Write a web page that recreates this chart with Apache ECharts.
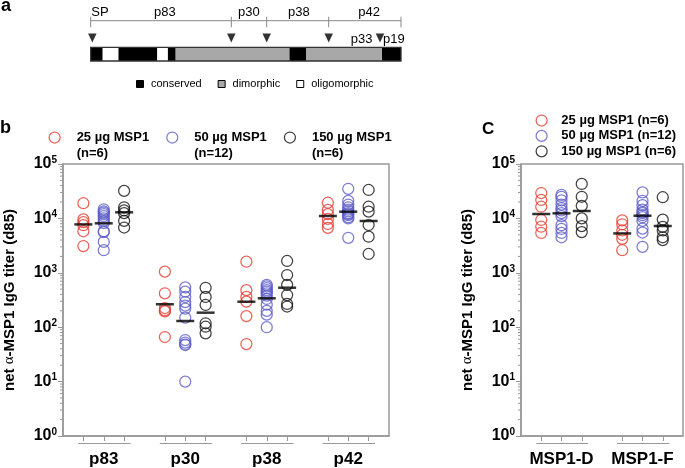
<!DOCTYPE html>
<html><head><meta charset="utf-8">
<script src="https://cdn.jsdelivr.net/npm/echarts@6/dist/echarts.min.js"></script>
<style>html,body{margin:0;padding:0;background:#fff}#c{width:685px;height:468px}</style>
</head><body><div id="c"></div>
<script>
// ---------- Panel a : MSP1 schematic (positions along the protein, 0..1000) ----------
const domainBounds = [0, 38.7, 88.9, 214.6, 248.1, 273.9, 640.0, 693.8, 937.8, 1000];
const domainTypes = ['conserved','oligomorphic','conserved','oligomorphic','conserved','dimorphic','conserved','dimorphic','conserved'];
const domainNames = ['conserved','dimorphic','oligomorphic'];
const processingSites = [0, 453.1, 567.2, 767.0, 1000];
const cleavageSites = [5.2, 453.1, 567.2, 767.0, 932.3];
const fragmentNames = ['SP','p83','p30','p38','p42'];
const fragmentLabelPos = [30, 239, 510, 671, 897];
const subFragmentNames = ['p33','p19'];
const subFragmentLabelPos = [873, 977];

// ---------- Panel b ----------
const fragments = ['p83','p30','p38','p42'];
const doses = ['25 µg MSP1 (n=6)','50 µg MSP1 (n=12)','150 µg MSP1 (n=6)'];
const b_25 = [
  [19000, 9600, 8500, 7500, 5800, 3100],
  [1050, 420, 225, 205, 195, 66],
  [1600, 480, 360, 295, 160, 49],
  [19400, 14300, 12000, 9800, 7900, 6700]
];
const b_50 = [
  [14700, 13500, 12800, 12000, 11000, 10000, 9000, 8200, 5800, 5600, 3700, 2600],
  [540, 450, 360, 290, 250, 220, 150, 58, 52, 48, 47, 10],
  [600, 560, 520, 480, 450, 420, 380, 330, 260, 200, 170, 100],
  [35000, 21000, 18000, 16000, 14500, 13500, 12500, 12000, 11500, 10500, 10000, 4400]
];
const b_150 = [
  [32000, 16000, 14000, 12500, 9000, 6800],
  [530, 360, 256, 118, 102, 77],
  [1650, 910, 600, 390, 267, 240],
  [33300, 16400, 13300, 7560, 4610, 2220]
];
const b_gm25 = [7760, 264, 294, 11070];
const b_gm50 = [8120, 130, 340, 13290];
const b_gm150 = [12940, 185, 532, 8960];

// ---------- Panel c ----------
const variants = ['MSP1-D','MSP1-F'];
const c_25 = [
  [29300, 21800, 16400, 9350, 7030, 5400],
  [9200, 7800, 6000, 5000, 4200, 2600]
];
const c_50 = [
  [27000, 25000, 21500, 18000, 15500, 14000, 12500, 11000, 7500, 6400, 5400, 4500],
  [30000, 21000, 17500, 14500, 13000, 12500, 11500, 10500, 9000, 6500, 5500, 3000]
];
const c_150 = [
  [43000, 25000, 17000, 10000, 7200, 5600],
  [24500, 9500, 7000, 6000, 4500, 4000]
];
const c_gm25 = [12050, 5300];
const c_gm50 = [12400, 11200];
const c_gm150 = [13680, 7250];

// ---------- styling ----------
const FONT = 'Liberation Sans, Arial, sans-serif';
const doseColors = ['#e63a2e', '#5b5bc9', '#111111'];
const domainColors = {conserved:'#000000', dimorphic:'#a8a8a8', oligomorphic:'#ffffff'};
const AX = '#999999';

const chart = echarts.init(document.getElementById('c'), null, {renderer:'canvas'});

function groupX(gi, di){ return 4*gi + 1 + di; }

function doseSeries(di, groups, axisIdx){
  const data = [];
  groups.forEach((vals, gi) => vals.forEach(v => data.push([groupX(gi, di), v])));
  return {
    type:'scatter', name:doses[di], xAxisIndex:axisIdx, yAxisIndex:axisIdx,
    symbol:'circle', symbolSize:11, data, z:3,
    itemStyle:{color:'rgba(0,0,0,0)', borderColor:doseColors[di], borderWidth:1.25},
    emphasis:{disabled:true}
  };
}
function meanSeries(gms, axisIdx){
  const data = [];
  gms.forEach((arr, di) => arr.forEach((v, gi) => data.push([groupX(gi, di), v])));
  return {
    type:'scatter', name:'geometric mean', xAxisIndex:axisIdx, yAxisIndex:axisIdx,
    symbol:'rect', symbolSize:[18, 2.5], data, z:4,
    itemStyle:{color:'#000'}, emphasis:{disabled:true}
  };
}
function minorTickSeries(axisIdx){
  const data = [];
  for (let e = 0; e < 5; e++) for (let k = 2; k <= 9; k++) data.push([0, k*Math.pow(10, e)]);
  return {
    type:'custom', xAxisIndex:axisIdx, yAxisIndex:axisIdx, clip:false, silent:true,
    data, encode:{x:0, y:1},
    renderItem:(p, api) => {
      const c = api.coord([api.value(0), api.value(1)]);
      return {type:'line', shape:{x1:c[0]-3, y1:c[1], x2:c[0], y2:c[1]}, style:{stroke:AX, lineWidth:1}};
    }
  };
}
function bracketSeries(n, axisIdx){
  const data = [];
  for (let gi = 0; gi < n; gi++) data.push([groupX(gi,0)-0.25, groupX(gi,2)+0.32]);
  return {
    type:'custom', xAxisIndex:axisIdx, yAxisIndex:axisIdx, clip:false, silent:true,
    data, encode:{x:[0,1]},
    renderItem:(p, api) => {
      const a = api.coord([api.value(0), 1]);
      const b = api.coord([api.value(1), 1]);
      return {type:'line', shape:{x1:a[0], y1:a[1]+7.5, x2:b[0], y2:b[1]+7.5}, style:{stroke:AX, lineWidth:1}};
    }
  };
}
function xAxisFor(names, gridIndex){
  const ticks = [];
  names.forEach((n, gi) => { for (let d = 0; d < 3; d++) ticks.push(groupX(gi, d)); });
  const labels = names.map((n, gi) => groupX(gi, 1));
  return {
    type:'value', gridIndex, min:0, max:4*names.length,
    axisLine:{show:true, lineStyle:{color:AX, width:1.5}},
    axisTick:{show:true, customValues:ticks, length:5, lineStyle:{color:AX, width:1}},
    axisLabel:{show:true, customValues:labels, margin:14.5, fontSize:17, fontWeight:'bold', color:'#000', fontFamily:FONT,
      formatter:(v) => names[Math.round((v-2)/4)]},
    splitLine:{show:false}
  };
}
function yAxisFor(gridIndex){
  return {
    type:'log', logBase:10, gridIndex, min:1, max:100000,
    name:'net {a|α}-MSP1 IgG titer (d85)', nameLocation:'middle', nameGap:46,
    nameTextStyle:{fontSize:15, fontWeight:'bold', color:'#000', fontFamily:FONT,
      rich:{a:{fontSize:15, fontFamily:'Liberation Serif, serif', fontWeight:'normal', color:'#000'}}},
    axisLine:{show:true, lineStyle:{color:AX, width:1.5}},
    axisTick:{show:true, length:5, lineStyle:{color:AX, width:1}},
    minorTick:{show:false},
    splitLine:{show:false},
    axisLabel:{margin:6, color:'#000', fontFamily:FONT,
      formatter:(v) => '{b|10}{s|' + Math.round(Math.log10(v)) + '}',
      rich:{b:{fontSize:16, fontWeight:'bold', fontFamily:FONT, color:'#000', lineHeight:18},
            s:{fontSize:10, fontWeight:'bold', fontFamily:FONT, color:'#000', verticalAlign:'top', lineHeight:18, padding:[0,0,6,0]}}}
  };
}

// panel a series
function domainSeries(type){
  const data = [];
  domainTypes.forEach((t, i) => { if (t === type) data.push([domainBounds[i], domainBounds[i+1]]); });
  return {
    type:'custom', name:type, xAxisIndex:2, yAxisIndex:2, clip:false, silent:true,
    itemStyle:{color:domainColors[type]}, data, encode:{x:[0,1]},
    renderItem:(p, api) => {
      const a = api.coord([api.value(0), 47.3]);
      const b = api.coord([api.value(1), 61]);
      return {type:'rect', shape:{x:a[0], y:a[1], width:b[0]-a[0], height:b[1]-a[1]}, style:{fill:domainColors[type]}};
    }
  };
}
const outlineSeries = {
  type:'custom', xAxisIndex:2, yAxisIndex:2, clip:false, silent:true, z:3,
  data:[[domainBounds[0], domainBounds[domainBounds.length-1]]], encode:{x:[0,1]},
  renderItem:(p, api) => {
    const a = api.coord([api.value(0), 47.3]);
    const b = api.coord([api.value(1), 61]);
    return {type:'rect', shape:{x:a[0], y:a[1], width:b[0]-a[0], height:b[1]-a[1]}, style:{fill:'none', stroke:'#333', lineWidth:1.3}};
  }
};
const sitesSeries = {
  type:'custom', xAxisIndex:2, yAxisIndex:2, clip:false, silent:true,
  data:processingSites.map(v => [v]), encode:{x:0},
  renderItem:(p, api) => {
    const t = api.coord([api.value(0), 16.7]);
    const b = api.coord([api.value(0), 27.3]);
    const children = [{type:'line', shape:{x1:t[0], y1:t[1], x2:b[0], y2:b[1]}, style:{stroke:'#888', lineWidth:1}}];
    if (p.dataIndex === 0) {
      const l = api.coord([processingSites[0], 20.7]);
      const r = api.coord([processingSites[processingSites.length-1], 20.7]);
      children.push({type:'line', shape:{x1:l[0], y1:l[1], x2:r[0], y2:r[1]}, style:{stroke:'#888', lineWidth:1}});
    }
    return {type:'group', children};
  }
};
function textSeries(names, pos, y){
  return {
    type:'custom', xAxisIndex:2, yAxisIndex:2, clip:false, silent:true,
    data:pos.map((v, i) => [v, i]), encode:{x:0},
    renderItem:(p, api) => {
      const c = api.coord([api.value(0), y]);
      return {type:'text', x:c[0], y:c[1], style:{text:names[api.value(1)], fill:'#000', font:'13px ' + FONT, textAlign:'center', textVerticalAlign:'middle'}};
    }
  };
}
const triangleSeries = {
  type:'scatter', xAxisIndex:2, yAxisIndex:2, silent:true, symbol:'triangle', symbolRotate:180,
  symbolSize:[8.5, 9], itemStyle:{color:'#000'},
  data:cleavageSites.map(v => [v, 38])
};

const legendCommon = {selectedMode:false, itemWidth:11, itemHeight:11, icon:'circle',
  data:doses.map((d, i) => ({name:d, icon:'circle', itemStyle:{color:'rgba(0,0,0,0)', borderColor:doseColors[i], borderWidth:1.25}}))};

const option = {
  animation:false,
  title:[
    {text:'a', left:1, top:-3, padding:0, textStyle:{fontSize:18, fontWeight:'bold', color:'#000', fontFamily:FONT}},
    {text:'b', left:0, top:119, padding:0, textStyle:{fontSize:18, fontWeight:'bold', color:'#000', fontFamily:FONT}},
    {text:'C', left:482, top:121, padding:0, textStyle:{fontSize:17, fontWeight:'bold', color:'#000', fontFamily:FONT}}
  ],
  legend:[
    Object.assign({}, legendCommon, {orient:'horizontal', left:48.5, top:113.5, itemGap:17, padding:0,
      formatter:(n) => { const k = n.indexOf(' ('); return '{e| }\n{t|' + n.slice(0, k) + '}\n{t|' + n.slice(k+1) + '}'; },
      textStyle:{fontSize:13, fontWeight:'bold', color:'#000', fontFamily:FONT, lineHeight:16, padding:[0,0,0,11.5],
        rich:{e:{fontSize:13, lineHeight:16}, t:{fontSize:13, fontWeight:'bold', color:'#000', fontFamily:FONT, lineHeight:16}}}}),
    Object.assign({}, legendCommon, {orient:'vertical', left:535.5, top:113, itemGap:0.4, padding:0,
      textStyle:{fontSize:13, fontWeight:'bold', color:'#000', fontFamily:FONT, lineHeight:15, padding:[0,0,0,9.2]}}),
    {orient:'horizontal', left:136, top:77.5, itemGap:16, padding:0, selectedMode:false, itemWidth:7, itemHeight:7,
      data:domainNames.map(n => ({name:n, icon:'rect', itemStyle:{color:domainColors[n], borderColor:'#000', borderWidth:1}})),
      textStyle:{fontSize:11, color:'#000', fontFamily:FONT, lineHeight:13, padding:[0,0,0,2.4]}}
  ],
  grid:[
    {left:63, top:164, width:326, height:272, show:true, borderColor:AX, borderWidth:1.5, backgroundColor:'rgba(0,0,0,0)'},
    {left:521, top:164, width:162, height:272, show:true, borderColor:AX, borderWidth:1.5, backgroundColor:'rgba(0,0,0,0)'},
    {left:90.7, top:0, width:310.3, height:100, show:false}
  ],
  xAxis:[
    xAxisFor(fragments, 0),
    xAxisFor(variants, 1),
    {type:'value', gridIndex:2, min:0, max:1000, show:false}
  ],
  yAxis:[
    yAxisFor(0),
    yAxisFor(1),
    {type:'value', gridIndex:2, min:0, max:100, inverse:true, show:false}
  ],
  series:[
    doseSeries(0, b_25, 0), doseSeries(1, b_50, 0), doseSeries(2, b_150, 0),
    meanSeries([b_gm25, b_gm50, b_gm150], 0),
    doseSeries(0, c_25, 1), doseSeries(1, c_50, 1), doseSeries(2, c_150, 1),
    meanSeries([c_gm25, c_gm50, c_gm150], 1),
    minorTickSeries(0), minorTickSeries(1),
    bracketSeries(fragments.length, 0), bracketSeries(variants.length, 1),
    domainSeries('conserved'), domainSeries('dimorphic'), domainSeries('oligomorphic'),
    outlineSeries, sitesSeries,
    textSeries(fragmentNames, fragmentLabelPos, 12.7),
    textSeries(subFragmentNames, subFragmentLabelPos, 39.3),
    triangleSeries
  ]
};
chart.setOption(option);
</script>
</body></html>
